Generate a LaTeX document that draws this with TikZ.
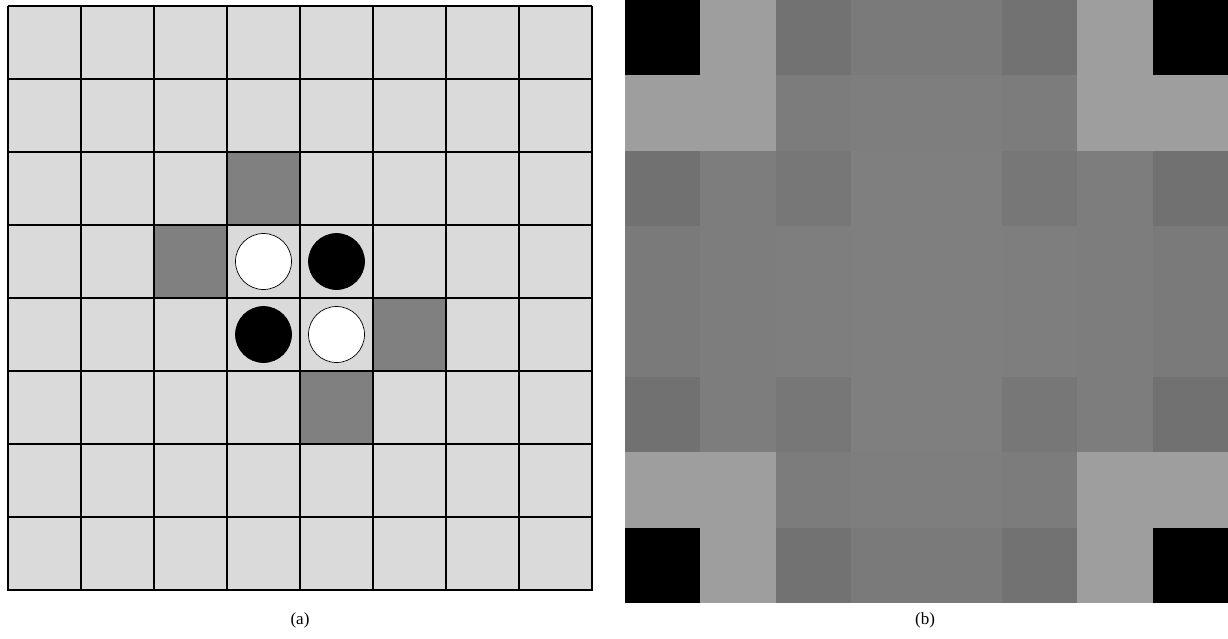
\documentclass[tikz,border=0pt]{standalone}
\usepackage{fontspec}
\setmainfont{Liberation Serif}
\begin{document}
\begin{tikzpicture}[x=1pt,y=-1pt,
  cellA/.style={fill={rgb,255:red,218;green,218;blue,218}},
  darkA/.style={fill={rgb,255:red,128;green,128;blue,128}},
  gridline/.style={line width=1.4pt,black},
  disc/.style={circle,draw=black,line width=0.7pt,minimum size=56pt,inner sep=0pt},
  caption/.style={font=\fontsize{17}{19}\selectfont}]
\useasboundingbox (0,0) rectangle (1228,638);
% ---------- (a) board ----------
\def\cs{73}
\fill[cellA] (8,6) rectangle (592,591);
\foreach \r/\c in {2/3,3/2,4/5,5/4}
  \fill[darkA] ({8+\c*\cs},{6+\r*\cs}) rectangle ++(\cs,\cs);
\foreach \i in {0,...,8}{
  \draw[gridline] ({8+\i*\cs},6) -- ({8+\i*\cs},591);
  \draw[gridline] (8,{6+\i*\cs}) -- (592,{6+\i*\cs});
}
\node[disc,fill=white] (d33) at ({8+3.5*\cs},{6+3.5*\cs}) {};
\node[disc,fill=black] (d34) at ({8+4.5*\cs},{6+3.5*\cs}) {};
\node[disc,fill=black] (d43) at ({8+3.5*\cs},{6+4.5*\cs}) {};
\node[disc,fill=white] (d44) at ({8+4.5*\cs},{6+4.5*\cs}) {};
\node[caption] (la) at (300,620) {(a)};
% ---------- (b) heat map ----------
\def\ds{75.4}
\foreach \g [count=\c from 0] in {0,158,114,122,122,114,158,0}
  \fill[fill={rgb,255:red,\g;green,\g;blue,\g}] ({625+\c*\ds-0.3},{0*\ds}) rectangle ++({\ds+0.6},{\ds+0.3});
\foreach \g [count=\c from 0] in {158,158,124,126,126,124,158,158}
  \fill[fill={rgb,255:red,\g;green,\g;blue,\g}] ({625+\c*\ds-0.3},{1*\ds-0.3}) rectangle ++({\ds+0.6},{\ds+0.6});
\foreach \g [count=\c from 0] in {113,125,119,127,127,119,125,113}
  \fill[fill={rgb,255:red,\g;green,\g;blue,\g}] ({625+\c*\ds-0.3},{2*\ds-0.3}) rectangle ++({\ds+0.6},{\ds+0.6});
\foreach \g [count=\c from 0] in {122,125,126,127,127,126,125,122}
  \fill[fill={rgb,255:red,\g;green,\g;blue,\g}] ({625+\c*\ds-0.3},{3*\ds-0.3}) rectangle ++({\ds+0.6},{\ds+0.6});
\foreach \g [count=\c from 0] in {122,125,126,127,127,126,125,122}
  \fill[fill={rgb,255:red,\g;green,\g;blue,\g}] ({625+\c*\ds-0.3},{4*\ds-0.3}) rectangle ++({\ds+0.6},{\ds+0.6});
\foreach \g [count=\c from 0] in {113,125,119,127,127,119,125,113}
  \fill[fill={rgb,255:red,\g;green,\g;blue,\g}] ({625+\c*\ds-0.3},{5*\ds-0.3}) rectangle ++({\ds+0.6},{\ds+0.6});
\foreach \g [count=\c from 0] in {158,158,124,126,126,124,158,158}
  \fill[fill={rgb,255:red,\g;green,\g;blue,\g}] ({625+\c*\ds-0.3},{6*\ds-0.3}) rectangle ++({\ds+0.6},{\ds+0.6});
\foreach \g [count=\c from 0] in {0,158,114,122,122,114,158,0}
  \fill[fill={rgb,255:red,\g;green,\g;blue,\g}] ({625+\c*\ds-0.3},{7*\ds-0.3}) rectangle ++({\ds+0.6},{\ds+0.3});
\node[caption] (lb) at (925,620) {(b)};
\end{tikzpicture}
\end{document}
